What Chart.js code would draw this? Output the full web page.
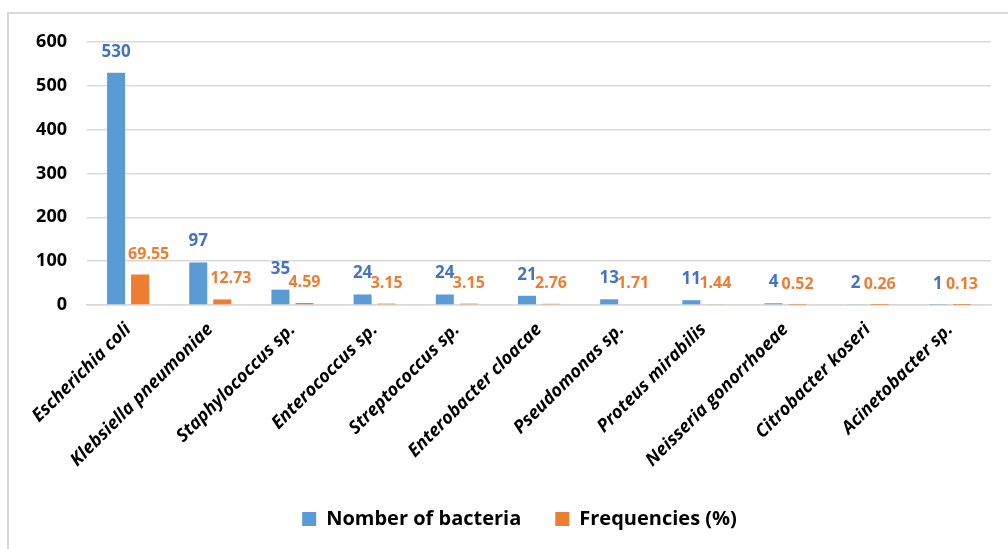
<!DOCTYPE html>
<html>
<head>
<meta charset="utf-8">
<title>Bacteria isolated</title>
<script src="https://cdn.jsdelivr.net/npm/chart.js@4.4.1/dist/chart.umd.min.js"></script>
<style>
  html, body { margin: 0; padding: 0; background: #ffffff; overflow: hidden; }
  #frame {
    position: absolute; left: 7px; top: 12px; width: 1020px; height: 560px;
    border-left: 2px solid #d9d9d9; border-top: 2px solid #d9d9d9;
  }
  #wrap { position: absolute; left: 0; top: 0; width: 1008px; height: 549px; }
</style>
</head>
<body>
<div id="frame"></div>
<div id="wrap"><canvas id="chart" width="1008" height="549"></canvas></div>
<script>
// Isolated species and their counts / share of all isolates
const categories = [
  'Escherichia coli', 'Klebsiella pneumoniae', 'Staphylococcus sp.',
  'Enterococcus sp.', 'Streptococcus sp.', 'Enterobacter cloacae',
  'Pseudomonas sp.', 'Proteus mirabilis', 'Neisseria gonorrhoeae',
  'Citrobacter koseri', 'Acinetobacter sp.'
];
const bacteriaCounts = [530, 97, 35, 24, 24, 21, 13, 11, 4, 2, 1];
const frequencies = [69.55, 12.73, 4.59, 3.15, 3.15, 2.76, 1.71, 1.44, 0.52, 0.26, 0.13];
const yTicks = [0, 100, 200, 300, 400, 500, 600];

const FONT = '"Open Sans", Lato, sans-serif';

// Value labels above each bar; the frequency label slides right when it would
// collide with the neighbouring tall count bar.
const valueLabels = {
  id: 'valueLabels',
  afterDatasetsDraw(chart) {
    const ctx = chart.ctx;
    const blueMeta = chart.getDatasetMeta(0);
    const orangeMeta = chart.getDatasetMeta(1);
    ctx.save();
    ctx.font = 'bold 17px ' + FONT;
    ctx.textBaseline = 'alphabetic';
    blueMeta.data.forEach((bar, i) => {
      ctx.fillStyle = '#4472c4';
      ctx.textAlign = 'center';
      ctx.fillText(String(bacteriaCounts[i]), bar.x, bar.y - 16);
    });
    ctx.font = 'bold 16px ' + FONT;
    orangeMeta.data.forEach((bar, i) => {
      const txt = frequencies[i].toFixed(2);
      const w = ctx.measureText(txt).width;
      let left = bar.x - w / 2;
      const baseY = bar.y - 16;
      const blue = blueMeta.data[i];
      const blueRight = blue.x + blue.width / 2;
      if (baseY > blue.y && left < blueRight + 3) left = blueRight + 3;
      ctx.fillStyle = '#ed7d31';
      ctx.textAlign = 'left';
      ctx.fillText(txt, left, baseY);
    });
    ctx.restore();
  }
};

// Nudge the legend so it is centred under the bars rather than the canvas
const legendShift = {
  id: 'legendShift',
  afterLayout(chart) {
    if (chart.legend) {
      chart.legend.left += 24;
      chart.legend.right += 24;
    }
  }
};

new Chart(document.getElementById('chart'), {
  type: 'bar',
  data: {
    labels: categories,
    datasets: [
      {
        label: 'Nomber of bacteria',
        data: bacteriaCounts,
        backgroundColor: '#5b9bd5',
        categoryPercentage: 0.585,
        barPercentage: 0.75
      },
      {
        label: 'Frequencies (%)',
        data: frequencies,
        backgroundColor: '#ed7d31',
        categoryPercentage: 0.585,
        barPercentage: 0.75
      }
    ]
  },
  options: {
    responsive: false,
    animation: false,
    layout: { padding: { left: 0, right: 17, top: 42, bottom: 10 } },
    plugins: {
      tooltip: { enabled: false },
      legend: {
        position: 'bottom',
        labels: {
          color: '#000000',
          font: { family: FONT, size: 20, weight: 'bold' },
          boxWidth: 14,
          boxHeight: 14,
          padding: 34
        }
      }
    },
    scales: {
      y: {
        min: 0,
        max: 600,
        afterBuildTicks(scale) { scale.ticks = yTicks.map(v => ({ value: v })); },
        afterFit(scale) { scale.width = 87; },
        border: { display: false },
        grid: { color: '#d9d9d9', lineWidth: 1.5, drawTicks: false },
        ticks: {
          padding: 20,
          color: '#000000',
          font: { family: FONT, size: 18, weight: 'bold' }
        }
      },
      x: {
        afterFit(scale) { scale.height = 170; },
        border: { display: true, color: '#d9d9d9', width: 1.5 },
        grid: { display: false },
        ticks: {
          minRotation: 45,
          maxRotation: 45,
          autoSkip: false,
          padding: 6,
          color: '#000000',
          font: { family: FONT, size: 18, weight: 'bold', style: 'italic' }
        }
      }
    }
  },
  plugins: [valueLabels, legendShift]
});
</script>
</body>
</html>
